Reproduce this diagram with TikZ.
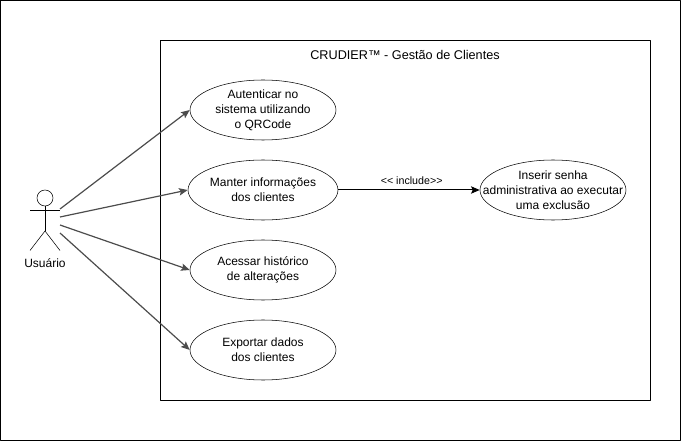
\documentclass[tikz,border=0pt]{standalone}
\usepackage{fontspec}
\setmainfont{Liberation Sans}
\usetikzlibrary{shapes.geometric,arrows.meta}
\begin{document}
\begin{tikzpicture}[>={Stealth[length=6.5pt,width=5.5pt,inset=1.2pt]}, x=0.75pt, y=-0.75pt, line join=round,
        usecase/.style={draw, ellipse, minimum width=109.5pt, minimum height=45pt, inner sep=0pt, align=center, font=\fontsize{9}{11.25}\selectfont},
        assoc/.style={->, draw=black!70, line width=0.9pt},
        box/.style={draw, line width=0.75pt}]
    \useasboundingbox (0,0) rectangle (682,442);
    \draw[box] (0.5,0.5) rectangle (680.5,440.5);
    \node[box, minimum width=367.5pt, minimum height=270pt, inner sep=0pt] (sistema) at (405.5,220.5) {};
    \node[font=\fontsize{9.5}{11}\selectfont] (titulo) at (405,55) {CRUDIER™ - Gestão de Clientes};
    % casos de uso
    \node[usecase] (autenticar) at (263,110) {Autenticar no\\sistema utilizando\\o QRCode};
    \node[usecase] (manter) at (263,190) {Manter informações\\dos clientes};
    \node[usecase] (historico) at (263,270) {Acessar histórico\\de alterações};
    \node[usecase] (exportar) at (263,350) {Exportar dados\\dos clientes};
    \node[usecase, inner xsep=-25pt, inner ysep=-4pt] (senha) at (553,190) {Inserir senha\\administrativa ao executar\\uma exclusão};
    % ator
    \node[draw, circle, minimum size=12pt, inner sep=0pt] (cabeca) at (45,198) {};
    \coordinate (quadril) at (45,231);
    \draw (cabeca.south) -- (quadril);
    \draw (30,210.5) -- (60,210.5);
    \draw (30,250.5) -- (quadril) -- (60,250.5);
    \node[font=\fontsize{9}{11}\selectfont] (usuario) at (45,263.5) {Usuário};
    \coordinate (a1) at (60,209);
    \coordinate (a2) at (60,217);
    \coordinate (a3) at (60,225);
    \coordinate (a4) at (60,233);
    % ligacoes
    \draw[assoc] (a1) -- (autenticar.west);
    \draw[assoc] (a2) -- (manter.west);
    \draw[assoc] (a3) -- (historico.west);
    \draw[assoc] (a4) -- (exportar.west);
    \draw[->, line width=0.75pt] (manter) -- node[above=0.5pt, xshift=2pt, font=\fontsize{8}{9}\selectfont]{<{}< include>{}>} (senha);
\end{tikzpicture}
\end{document}
